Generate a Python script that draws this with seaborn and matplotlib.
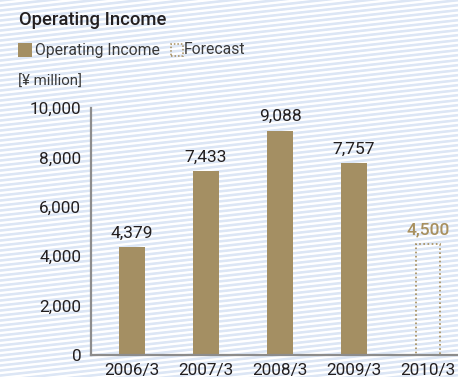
import numpy as np
import pandas as pd
import matplotlib
matplotlib.use("Agg")
import matplotlib.pyplot as plt
import seaborn as sns
from matplotlib.patches import Rectangle

# Operating income, ¥ million (fiscal years ending March)
years = ["2006/3", "2007/3", "2008/3", "2009/3", "2010/3"]
actual = [4379, 7433, 9088, 7757, None]
forecast = [None, None, None, None, 4500]
yticks = [0, 2000, 4000, 6000, 8000, 10000]

BAR = "#a48f63"
FORE = "#a48c5c"
TEXT = "#231f20"
SPINE = "#8c8c8c"

sns.set_theme(style="white")
plt.rcParams["font.family"] = ["Roboto", "DejaVu Sans"]

W, H = 458, 377
fig = plt.figure(figsize=(W / 100, H / 100), dpi=100)

# striped backdrop across the whole figure (smooth, anti-aliased bands)
bg = fig.add_axes([0, 0, 1, 1], zorder=-10)
yy, xx = np.mgrid[0:H, 0:W].astype(float)
wave = np.cos(2 * np.pi * (yy + 0.11 * xx) / 5.0)
mix = np.clip(0.55 + 0.9 * wave, 0, 1)[..., None]
blue = np.array([220, 230, 245]) / 255.0
img = mix * blue + (1 - mix) * np.ones(3)
bg.imshow(img, aspect="auto", interpolation="nearest")
bg.axis("off")

ax = fig.add_axes([91 / W, 22 / H, (W - 91) / W, (355 - 108) / H])
ax.patch.set_alpha(0)

df = pd.DataFrame({"year": years,
                   "value": [a if a is not None else 0 for a in actual]})
sns.barplot(data=df, x="year", y="value", color=BAR, width=0.36,
            saturation=1, ax=ax, edgecolor="none")

# forecast bar drawn as a dotted outline
for i, v in enumerate(forecast):
    if v is not None:
        ax.bar(i, v, width=0.33, fill=False, edgecolor=FORE,
               linestyle=(0, (1, 1.5)), linewidth=1.2)
        ax.text(i, v + 260, f"{v:,}", ha="center", va="bottom",
                fontsize=12.5, color="#a8905f", fontweight="medium")

for i, v in enumerate(actual):
    if v is not None:
        ax.text(i, v + 260, f"{v:,}", ha="center", va="bottom",
                fontsize=12.5, color=TEXT)

ax.set_xlim(-0.555, 4.405)
ax.set_ylim(0, 10000)
ax.set_yticks(yticks)
ax.set_yticklabels([f"{t:,}" for t in yticks])
ax.tick_params(axis="both", length=0, labelsize=12.3, colors=TEXT)
ax.tick_params(axis="y", pad=7)
ax.tick_params(axis="x", pad=6)
ax.set_xlabel("")
ax.set_ylabel("")
for s in ["top", "right"]:
    ax.spines[s].set_visible(False)
for s in ["left", "bottom"]:
    ax.spines[s].set_color(SPINE)
    ax.spines[s].set_linewidth(1.6)

# title, legend and unit label
fig.text(19 / W, 1 - 20 / H, "Operating Income", fontsize=13.3,
         fontweight="medium", color=TEXT, va="center", ha="left")
fig.patches.append(Rectangle((18 / W, 1 - 57 / H), 14 / W, 14 / H,
                             transform=fig.transFigure, facecolor=BAR,
                             edgecolor="none"))
fig.text(35 / W, 1 - 50 / H, "Operating Income", fontsize=11.3,
         color="#3a3a3a", va="center", ha="left")
fig.patches.append(Rectangle((171 / W, 1 - 56 / H), 12 / W, 12 / H,
                             transform=fig.transFigure, fill=False,
                             edgecolor=FORE, linestyle=(0, (1, 1.3)),
                             linewidth=1.1))
fig.text(184 / W, 1 - 50 / H, "Forecast", fontsize=11.3,
         color="#3a3a3a", va="center", ha="left")
fig.text(18 / W, 1 - 82 / H, "[¥ million]", fontsize=10.8,
         color="#3a3a3a", va="center", ha="left")

fig.savefig("out.png", dpi=100)
